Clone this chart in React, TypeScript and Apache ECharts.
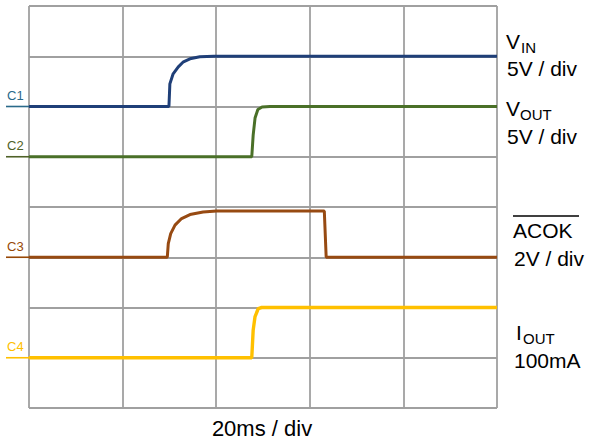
import { useEffect, useRef } from "react";
import * as echarts from "echarts";

// time axis in ms (20 ms / div), vertical axis in divisions (8 divs)
const xMin = 0;
const xMax = 100;
const xStep = 20;
const yMin = 0;
const yMax = 8;
const yStep = 1;

// C1 : VIN
const c1Data: [number, number][] = [
  [0, 6], [29.9, 6], [30.1, 6.45], [30.8, 6.65], [31.9, 6.79], [33.0, 6.89],
  [34.4, 6.95], [36.5, 6.99], [39.5, 7], [100, 7],
];
// C2 : VOUT
const c2Data: [number, number][] = [
  [0, 5], [47.6, 5], [47.9, 5.43], [48.3, 5.77], [48.9, 5.94], [49.8, 5.99],
  [51.5, 6], [100, 6],
];
// C3 : ACOK
const c3Data: [number, number][] = [
  [0, 3], [29.55, 3], [29.76, 3.27], [30.28, 3.47], [31.2, 3.64], [32.6, 3.77],
  [34.4, 3.85], [37.2, 3.9], [40.1, 3.92], [63.1, 3.92], [63.5, 3], [100, 3],
];
// C4 : IOUT
const c4Data: [number, number][] = [
  [0, 1], [47.6, 1], [47.9, 1.55], [48.3, 1.82], [49.0, 1.98], [49.7, 2],
  [100, 2],
];

const channelNames = ["C1", "C2", "C3", "C4"];
const channelBases = [6, 5, 3, 1];
const traceColors = ["#1F3F78", "#4A7028", "#974A12", "#FFC000"];
const labelColors = ["#2A6A8A", "#4F6228", "#974806", "#FFC000"];

const FONT = "'Liberation Sans', Arial, sans-serif";

export default function App() {
  const ref = useRef<HTMLDivElement>(null);
  useEffect(() => {
    document.body.style.margin = "0";
    if (!ref.current) return;
    const chart = echarts.init(ref.current, undefined, { renderer: "svg" });
    const datasets = [c1Data, c2Data, c3Data, c4Data];
    const gridColor = "#a0a0a0";
    chart.setOption({
      animation: false,
      grid: { left: 29, top: 6, width: 468, height: 402, show: false },
      xAxis: {
        type: "value",
        min: xMin,
        max: xMax,
        interval: xStep,
        axisLabel: { show: false },
        axisTick: { show: false },
        axisLine: { show: false },
        splitLine: { show: true, lineStyle: { color: gridColor, width: 1.8 } },
      },
      yAxis: {
        type: "value",
        min: yMin,
        max: yMax,
        interval: yStep,
        axisLabel: { show: false },
        axisTick: { show: false },
        axisLine: { show: false },
        splitLine: { show: true, lineStyle: { color: gridColor, width: 1.8 } },
      },
      series: datasets.map((d, i) => ({
        type: "line",
        name: channelNames[i],
        data: d,
        showSymbol: false,
        symbol: "none",
        lineStyle: { color: traceColors[i], width: i === 3 ? 3.4 : 3 },
        z: 3 + i,
      })),
    });

    const graphics: any[] = [];
    channelBases.forEach((b, i) => {
      const p = chart.convertToPixel({ xAxisIndex: 0, yAxisIndex: 0 }, [xMin, b]) as number[];
      const x0 = p[0];
      const y0 = p[1];
      graphics.push({
        type: "line",
        shape: { x1: x0 - 23, y1: y0, x2: x0, y2: y0 },
        style: { stroke: labelColors[i], lineWidth: 1.6 },
      });
      graphics.push({
        type: "text",
        x: x0 - 22,
        y: y0 - 11,
        style: {
          text: channelNames[i],
          fill: labelColors[i],
          font: `13px ${FONT}`,
          textVerticalAlign: "middle",
          textAlign: "left",
        },
      });
    });

    const mainFont = `21px ${FONT}`;
    const subFont = `15px ${FONT}`;
    const txt = (text: string, x: number, y: number, font: string) => ({
      type: "text",
      x,
      y,
      style: { text, fill: "#000", font, textVerticalAlign: "middle", textAlign: "left" },
    });
    // right-hand labels
    graphics.push(txt("V", 506, 41, mainFont));
    graphics.push(txt("IN", 521, 47, subFont));
    graphics.push(txt("5V / div", 507, 68, mainFont));
    graphics.push(txt("V", 506, 108, mainFont));
    graphics.push(txt("OUT", 520, 114, subFont));
    graphics.push(txt("5V / div", 507, 136, mainFont));
    graphics.push(txt("ACOK", 513, 230, mainFont));
    graphics.push({
      type: "line",
      shape: { x1: 513, y1: 216, x2: 579, y2: 216 },
      style: { stroke: "#000", lineWidth: 1.3 },
    });
    graphics.push(txt("2V / div", 514, 258, mainFont));
    graphics.push(txt("I", 516, 332, mainFont));
    graphics.push(txt("OUT", 523, 338, subFont));
    graphics.push(txt("100mA", 514, 360, mainFont));
    graphics.push({
      type: "text",
      x: 262,
      y: 428,
      style: {
        text: "20ms / div",
        fill: "#000",
        font: `22px ${FONT}`,
        textVerticalAlign: "middle",
        textAlign: "center",
      },
    });

    chart.setOption({ graphic: graphics });
    return () => chart.dispose();
  }, []);
  return (
    <div
      ref={ref}
      style={{ position: "absolute", left: 0, top: 0, width: 592, height: 443 }}
    />
  );
}
